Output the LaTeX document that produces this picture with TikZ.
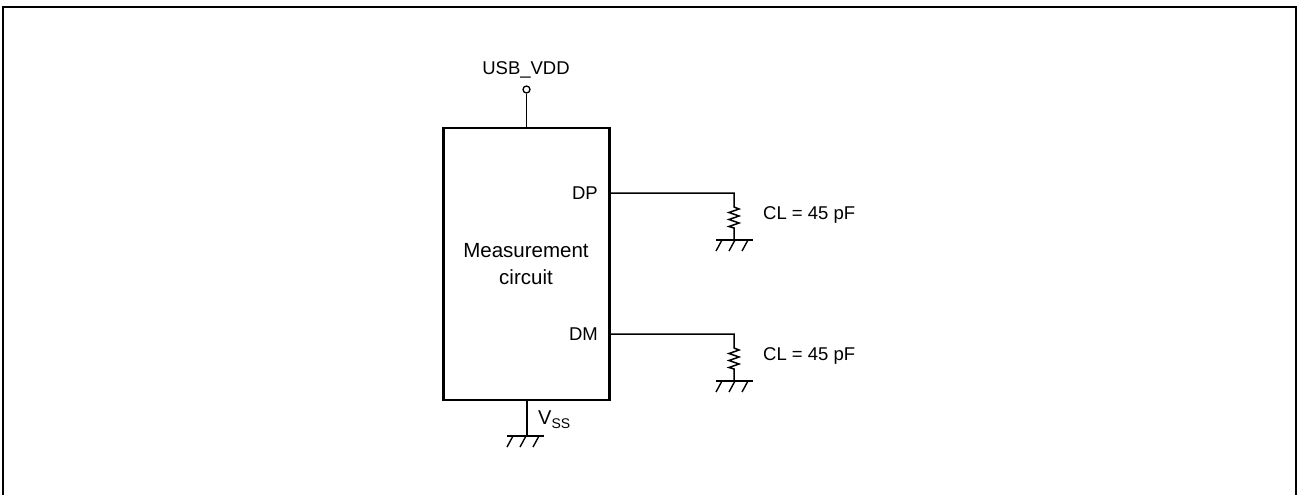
\documentclass[tikz,border=0pt]{standalone}
\usepackage{fontspec}
\setmainfont{Liberation Sans}
\begin{document}
\begin{tikzpicture}[x=1pt,y=-1pt,
  wire/.style={line width=1.5pt},
  lbl/.style={inner sep=0pt,font=\fontsize{18.5}{27}\selectfont},
  gnd/.style={line width=1.4pt}]
\useasboundingbox (0,0) rectangle (1298,495);
% outer frame
\draw[line width=2.5pt] (3,520) -- (3,7) -- (1296,7) -- (1296,520);
% main box
\node[draw,line width=2.2pt,minimum width=166pt,minimum height=272pt,inner sep=0pt] (box) at (526.5,264) {};
\node[inner sep=0pt,align=center,font=\fontsize{20.5}{27}\selectfont] (mtext) at (526,264.5) {Measurement\\circuit};
% USB_VDD
\node[lbl] (vdd) at (526,70) {USB\_VDD};
\node[draw,circle,minimum size=7pt,inner sep=0pt,line width=1.3pt] (term) at (526.5,89.5) {};
\draw[wire] (term.south) -- (term.south |- box.north);
% DP
\coordinate (dpo) at (609.5,193);
\node[lbl,anchor=east] (dp) at (598,193) {DP};
\coordinate (dpc) at (734,193);
\draw[wire] (dpo) -- (dpc) -- (734,207) -- (739,209) -- (729,212.5) -- (739,216) -- (729,219.5) -- (739,223) -- (729,226.5) -- (734,228) -- (734,240) coordinate (dpg);
\draw[gnd] (716,240) -- (753,240);
\draw[gnd] (722,240) -- (716,251) (735,240) -- (729,251) (748,240) -- (742,251);
\node[lbl,anchor=west] (cl1) at (763,215) {CL = 45 pF};
% DM
\coordinate (dmo) at (609.5,334);
\node[lbl,anchor=east] (dm) at (598,334) {DM};
\coordinate (dmc) at (734,334);
\draw[wire] (dmo) -- (dmc) -- (734,348) -- (739,350) -- (729,353.5) -- (739,357) -- (729,360.5) -- (739,364) -- (729,367.5) -- (734,369) -- (734,381) coordinate (dmg);
\draw[gnd] (716,381) -- (753,381);
\draw[gnd] (722,381) -- (716,392) (735,381) -- (729,392) (748,381) -- (742,392);
\node[lbl,anchor=west] (cl2) at (763,356) {CL = 45 pF};
% VSS
\coordinate (vssg) at (527,436);
\draw[wire] (box.south -| vssg) -- (vssg);
\draw[gnd] (507,436) -- (544,436);
\draw[gnd] (513,436) -- (507,447) (526,436) -- (520,447) (539,436) -- (533,447);
\node[inner sep=0pt,anchor=west,font=\fontsize{20}{24}\selectfont] (vss) at (538,420) {V\raisebox{-0.35ex}{\fontsize{14}{16}\selectfont SS}};
\end{tikzpicture}
\end{document}
